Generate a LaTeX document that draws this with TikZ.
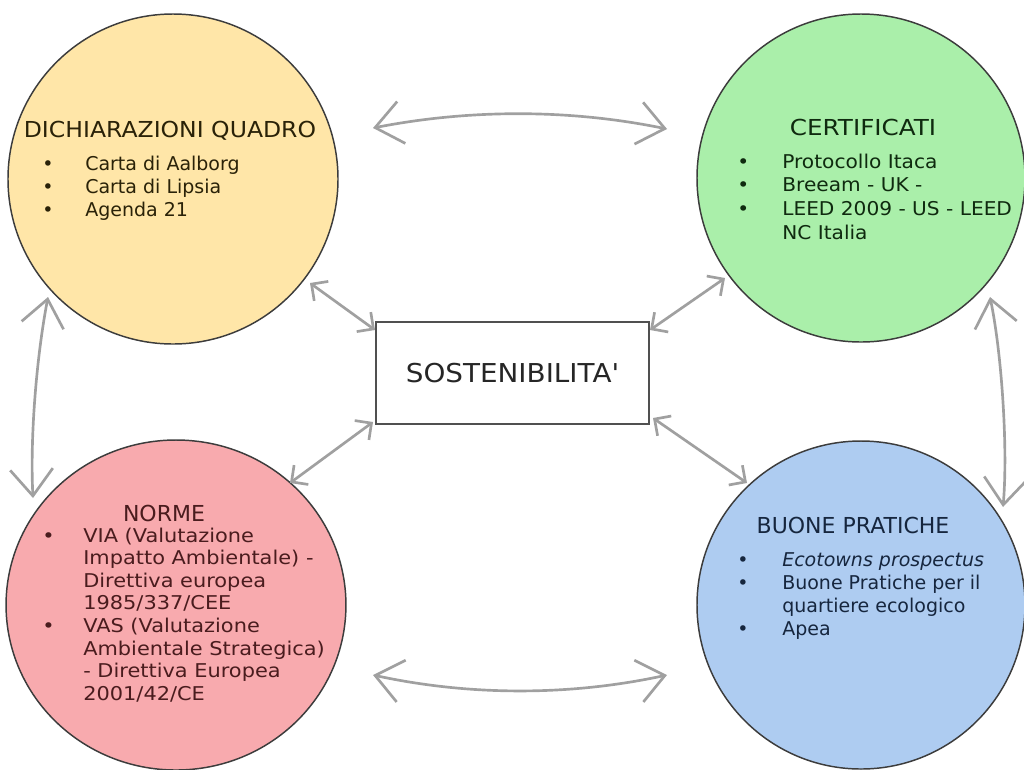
\documentclass[tikz,border=0pt]{standalone}
\usepackage{fontspec}
\setmainfont{DejaVu Sans}[Ligatures=TeXOff]
\usetikzlibrary{arrows.meta}
\newlength\pxu \setlength\pxu{0.75pt}
\definecolor{yelfill}{HTML}{FFE6A8}
\definecolor{grnfill}{HTML}{AAEFAA}
\definecolor{pnkfill}{HTML}{F8AAAE}
\definecolor{blufill}{HTML}{AECCF1}
\definecolor{circline}{HTML}{3C3C3C}
\definecolor{arrgray}{HTML}{A0A0A0}
\definecolor{yeltext}{HTML}{2A2208}
\definecolor{grntext}{HTML}{0F2A0F}
\definecolor{pnktext}{HTML}{4A1C1E}
\definecolor{blutext}{HTML}{16263E}
\newcommand\mybul[1]{\makebox[#1][l]{•}}
\begin{document}
\begin{tikzpicture}[x=0.75pt,y=-0.75pt,
  circ/.style={circle, draw=circline, line width=1.1pt, inner sep=0pt, minimum size=#1},
  ttl/.style={anchor=base, inner sep=0pt, font=\fontsize{16.5}{20}\selectfont},
  lst/.style={anchor=base west, inner sep=0pt, align=left},
  bigarr/.style={draw=arrgray, line width=2pt, {Straight Barb[length=20pt,width=32pt]}-{Straight Barb[length=20pt,width=32pt]}},
  smallarr/.style={draw=arrgray, line width=2pt, {Straight Barb[length=9pt,width=18pt]}-{Straight Barb[length=9pt,width=18pt]}},
  sostbox/.style={draw=circline!90, line width=1.1pt, fill=white, minimum width=204.75pt, minimum height=76.5pt, inner sep=0pt, font=\fontsize{19.5}{22}\selectfont, text=black!85}
]
\useasboundingbox (0,0) rectangle (1024,769);
\fill[white] (0,0) rectangle (1024,769);

% circles
\node[circ=247.5pt, fill=yelfill] (yel) at (173,179) {};
\node[circ=246pt, fill=grnfill] (grn) at (861,178) {};
\node[circ=247.5pt, fill=pnkfill, xscale=1.03] (pnk) at (176,605) {};
\node[circ=246pt, fill=blufill] (blu) at (861,605) {};

% central box
\node[sostbox] (sost) at (512.5,373) {\scalebox{1.07}[1]{SOSTENIBILITA'}};

% yellow text
\node[ttl, text=yeltext] (yelt) at (170,137) {\scalebox{1.07}[1]{DICHIARAZIONI QUADRO}};
\node[lst, text=yeltext] (yell) at (42,170) {\parbox[t]{300pt}{\fontsize{14.25}{17.6}\selectfont
\mybul{43\pxu}Carta di Aalborg\\
\mybul{43\pxu}Carta di Lipsia\\
\mybul{43\pxu}Agenda 21}};

% green text
\node[ttl, text=grntext] (grnt) at (863,135) {\scalebox{1.12}[1]{CERTIFICATI}};
\node[lst, text=grntext] (grnl) at (737,168) {\scalebox{1.06}[1]{\parbox[t]{300pt}{\fontsize{14.25}{17.85}\selectfont
\mybul{42.5\pxu}Protocollo Itaca\\
\mybul{42.5\pxu}Breeam - UK -\\
\mybul{42.5\pxu}LEED 2009 - US - LEED\\
\hspace*{42.5\pxu}NC Italia}}};

% pink text
\node[ttl, text=pnktext] (pnkt) at (164,521) {NORME};
\node[lst, text=pnktext] (pnkl) at (42,542) {\scalebox{1.1}[1]{\parbox[t]{300pt}{\fontsize{14.25}{16.95}\selectfont
\mybul{37.3\pxu}VIA (Valutazione\\
\hspace*{37.3\pxu}Impatto Ambientale) -\\
\hspace*{37.3\pxu}Direttiva europea\\
\hspace*{37.3\pxu}1985/337/CEE\\
\mybul{37.3\pxu}VAS (Valutazione\\
\hspace*{37.3\pxu}Ambientale Strategica)\\
\hspace*{37.3\pxu}- Direttiva Europea\\
\hspace*{37.3\pxu}2001/42/CE}}};

% blue text
\node[ttl, text=blutext] (blut) at (853,533) {BUONE PRATICHE};
\node[lst, text=blutext] (blul) at (737,566) {\parbox[t]{300pt}{\fontsize{14.25}{17.25}\selectfont
{\itshape\mybul{45\pxu}Ecotowns prospectus}\\
\mybul{45\pxu}Buone Pratiche per il\\
\hspace*{45\pxu}quartiere ecologico\\
\mybul{45\pxu}Apea}};

% arrow end points
\coordinate (ta1) at (373,128);
\coordinate (ta2) at (667,129);
\coordinate (ba1) at (373,675);
\coordinate (ba2) at (667,675);
\coordinate (la1) at (48,297);
\coordinate (la2) at (33,498);
\coordinate (ra1) at (990,297);
\coordinate (ra2) at (1003,507);
\coordinate (d1a) at (310,283);
\coordinate (d1b) at (375,330);
\coordinate (d2a) at (650,330);
\coordinate (d2b) at (725,278);
\coordinate (d3a) at (373,422);
\coordinate (d3b) at (290,483);
\coordinate (d4a) at (653,418);
\coordinate (d4b) at (747,483);

% outer arrows
\draw[bigarr] (ta1) .. controls (470,109) and (570,109) .. (ta2);
\draw[bigarr] (ba1) .. controls (470,696) and (570,696) .. (ba2);
\draw[bigarr] (la1) .. controls (36,360) and (30,440) .. (la2);
\draw[bigarr] (ra1) .. controls (1002,355) and (1008,450) .. (ra2);

% diagonal arrows
\draw[smallarr] (d1a) -- (d1b);
\draw[smallarr] (d2a) -- (d2b);
\draw[smallarr] (d3a) -- (d3b);
\draw[smallarr] (d4a) -- (d4b);
\end{tikzpicture}
\end{document}
